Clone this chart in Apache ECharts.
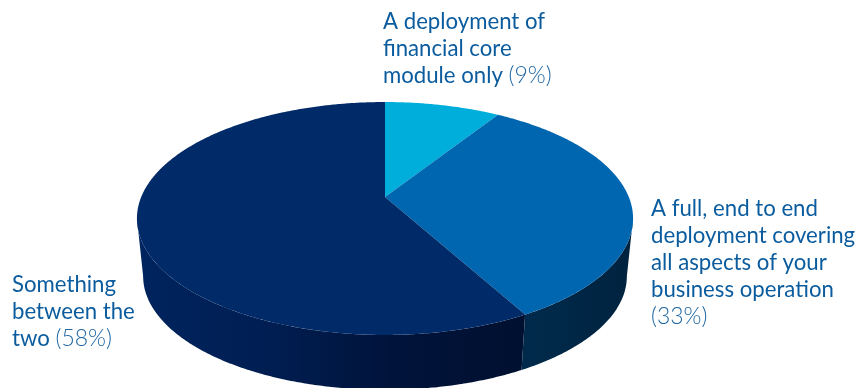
<!DOCTYPE html>
<html><head><meta charset="utf-8">
<style>html,body{margin:0;padding:0;background:#fff}#c{width:859px;height:388px}</style>
<script src="https://cdn.jsdelivr.net/npm/echarts@6/dist/echarts.min.js"></script>
</head><body><div id="c"></div>
<script>
const labelLines = [
  ["A deployment of", "financial core", "module only"],
  ["A full, end to end", "deployment covering", "all aspects of your", "business operation", ""],
  ["Something", "between the", "two"]
];
const values = [9, 33, 58];
const topColors = ["#00aedb", "#0066b0", "#002a68"];
const sideStops = [null, ["#002a4c", "#00233f"], ["#00245f", "#001e52", "#00133a", "#001030"]];

const labelAnchors = [[383, 8], [651, 195], [12, 271]];
const apex = [385, 197], K = 112.5, D = 243.8, C = -0.1845;
const bottomApex = [385, 255.3], bottomScale = 0.975;
const total = values.reduce((a, b) => a + b, 0);
const sideStart = Math.acos(C) * 180 / Math.PI, sideEnd = 360 - sideStart;

function project(deg, origin, s) {
  const t = deg * Math.PI / 180, u = Math.sin(t), v = -Math.cos(t), w = 1 + C * v;
  return [origin[0] + s * D * u / w, origin[1] + s * K * v / w];
}
function arc(a0, a1, origin, s) {
  const pts = [], n = Math.max(2, Math.ceil((a1 - a0) * 2));
  for (let i = 0; i <= n; i++) pts.push(project(a0 + (a1 - a0) * i / n, origin, s));
  return pts;
}
function renderItem(params, api) {
  const i = params.dataIndex;
  const before = values.slice(0, i).reduce((a, b) => a + b, 0);
  const a0 = before / total * 360, a1 = (before + api.value(0)) / total * 360;
  const children = [];
  children.push({type: 'polygon', z2: 2,
    shape: {points: [apex].concat(arc(a0, a1, apex, 1))},
    style: {fill: topColors[i]}});
  const s0 = Math.max(a0, sideStart), s1 = Math.min(a1, sideEnd);
  if (sideStops[i] && s1 > s0) {
    const up = arc(s0, s1, apex, 1), lo = arc(s0, s1, bottomApex, bottomScale).reverse();
    const st = sideStops[i];
    const xs = up.concat(lo).map(p => p[0]);
    const x0 = Math.min.apply(null, xs), x1 = Math.max.apply(null, xs);
    const ltr = new echarts.graphic.LinearGradient(x0, 0, x1, 0,
      st.map((c, k) => ({offset: k / (st.length - 1), color: c})), true);
    children.push({type: 'polygon', z2: 1, shape: {points: up.concat(lo)}, style: {fill: ltr}});
  }
  const lines = labelLines[i].map(l => '{a|' + l + '}');
  const last = lines.length - 1;
  const tail = '{b|(' + api.value(0) + '%)}';
  if (labelLines[i][last] === '') lines[last] = tail;
  else lines[last] = '{a|' + labelLines[i][last] + ' }' + tail;
  children.push({type: 'text', z2: 3, x: labelAnchors[i][0], y: labelAnchors[i][1], style: {
    text: lines.join('\n'), rich: {
      a: {fontFamily: 'Lato', fontSize: 22.2, lineHeight: 27, fill: '#0b5c9e', color: '#0b5c9e'},
      b: {fontFamily: 'Lato', fontSize: 23, fontWeight: 300, lineHeight: 27, fill: '#1f67a3', color: '#1f67a3'}
    }}});
  return {type: 'group', children};
}
const chart = echarts.init(document.getElementById('c'), null, {renderer: 'canvas'});
chart.setOption({
  animation: false,
  backgroundColor: '#ffffff',
  series: [{type: 'custom', coordinateSystem: 'none', renderItem,
    data: values.map(v => [v]), silent: true}]
});
</script></body></html>
